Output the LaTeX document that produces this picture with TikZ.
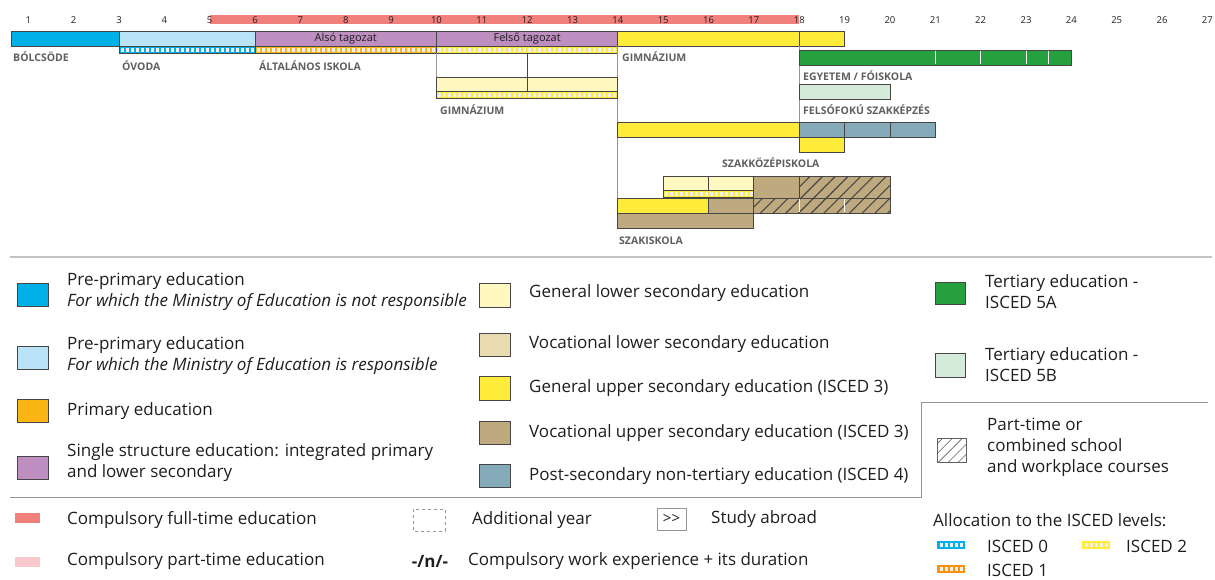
\documentclass[tikz,border=0pt]{standalone}
\usepackage{fontspec}
\setmainfont{Open Sans}
\usetikzlibrary{patterns.meta}

\definecolor{cCreche}{RGB}{0,176,230}
\definecolor{cPre}{RGB}{187,227,247}
\definecolor{cPrim}{RGB}{251,181,21}
\definecolor{cSingle}{RGB}{190,142,192}
\definecolor{cGenLow}{RGB}{255,248,192}
\definecolor{cVocLow}{RGB}{232,220,176}
\definecolor{cGenUp}{RGB}{255,236,58}
\definecolor{cVocUp}{RGB}{191,170,128}
\definecolor{cPost}{RGB}{133,171,186}
\definecolor{cTerA}{RGB}{38,160,62}
\definecolor{cTerB}{RGB}{213,235,217}
\definecolor{cComp}{RGB}{240,128,124}
\definecolor{cPart}{RGB}{248,200,204}
\definecolor{cEdge}{RGB}{70,70,70}
\definecolor{cRule}{RGB}{150,150,150}
\definecolor{cSep}{RGB}{195,195,195}
\definecolor{cText}{RGB}{30,30,30}
\definecolor{cCap}{RGB}{95,95,95}

% horizontal position (px) of a given age on the time line
\def\A#1{#1*45.35-17.05}

% thin ISCED allocation strip: left age, right age, top, colour
\newcommand\iscedstrip[4]{%
  \pgfmathsetmacro\stL{\A{#1}}\pgfmathsetmacro\stR{\A{#2}}%
  \fill[#4] (\stL,#3) rectangle (\stR,#3+7);
  \pgfmathsetmacro\stS{\stL+2}\pgfmathsetmacro\stT{\stL+7}\pgfmathsetmacro\stE{\stR-3}%
  \foreach \u in {\stS,\stT,...,\stE} \fill[white!88!gray] (\u,#3+1.5) rectangle (\u+2.5,#3+5.5);
  \draw[bar] (\stL,#3) rectangle (\stR,#3+7);}

% small striped legend key: left, top, colour
\newcommand\iscedkey[3]{%
  \fill[#3] (#1,#2) rectangle (#1+28,#2+8);
  \foreach \k in {0,...,4} \fill[white!88!gray] (#1+3+\k*5,#2+2) rectangle (#1+5.5+\k*5,#2+6);}

\tikzset{
  bar/.style={draw=cEdge, line width=0.9pt},
  rule/.style={draw=cRule, line width=0.8pt},
  schoolcap/.style={anchor=west, inner sep=0, text=cCap, font=\fontsize{10.5}{11}\selectfont\bfseries},
  agenum/.style={inner sep=0, text=cText, font=\fontsize{9.5}{10}\selectfont},
  tier/.style={inner sep=0, text=cText, font=\fontsize{11}{12}\selectfont},
  leg/.style={anchor=west, inner sep=0, text=cText, align=left, font=\fontsize{17}{21}\selectfont},
  swatch/.style={draw=cEdge, line width=0.6pt},
  hatch/.style={pattern={Lines[angle=45,distance=9pt,line width=1.1pt]}, pattern color=cEdge}
}

\begin{document}
\begin{tikzpicture}[x=1pt,y=-1pt]
\useasboundingbox (0,0) rectangle (1215,579);

% ---------- time line ----------
\fill[cComp] (\A{5},15) rectangle (\A{18},24);
\foreach \a in {1,...,27} \node[agenum] (age\a) at (\A{\a},20) {\a};

% ---------- main row ----------
\filldraw[bar, fill=cCreche] (11,31) rectangle (\A{3},46);
\filldraw[bar, fill=cPre] (\A{3},31) rectangle (\A{6},46);
\filldraw[bar, fill=cSingle] (\A{6},31) rectangle (\A{10},46);
\filldraw[bar, fill=cSingle] (\A{10},31) rectangle (\A{14},46);
\filldraw[bar, fill=cGenUp] (\A{14},31) rectangle (\A{18},46);
\filldraw[bar, fill=cGenUp] (\A{18},31) rectangle (\A{19},46);
\node[tier] (also) at (\A{8},38.5) {Alsó tagozat};
\node[tier] (felso) at (\A{12},38.5) {Felső tagozat};

\iscedstrip{3}{6}{46}{cCreche}
\iscedstrip{6}{10}{46}{cPrim}
\iscedstrip{10}{14}{46}{cGenUp}

% ---------- branch lines ----------
\draw[rule] (\A{10},53) -- (\A{10},98);
\draw[rule] (\A{14},46) -- (\A{14},213);
\draw[rule] (\A{18},46) -- (\A{18},122);

% eight-year gimnázium, lower part
\filldraw[bar, fill=cGenLow] (\A{10},77) rectangle (\A{12},91);
\filldraw[bar, fill=cGenLow] (\A{12},77) rectangle (\A{14},91);
\draw[bar] (\A{12},53) -- (\A{12},77);
\iscedstrip{10}{14}{91}{cGenUp}

% tertiary
\filldraw[bar, fill=cTerA] (\A{18},50) rectangle (\A{24},65);
\foreach \d in {21,22,23,23.5} \draw[white, line width=1pt] (\A{\d},50.6) -- (\A{\d},64.4);
\filldraw[bar, fill=cTerB] (\A{18},84) rectangle (\A{20},99);

% post-secondary row
\filldraw[bar, fill=cGenUp] (\A{14},122) rectangle (\A{18},137);
\filldraw[bar, fill=cPost] (\A{18},122) rectangle (\A{19},137);
\filldraw[bar, fill=cPost] (\A{19},122) rectangle (\A{20},137);
\filldraw[bar, fill=cPost] (\A{20},122) rectangle (\A{21},137);
\filldraw[bar, fill=cGenUp] (\A{18},137) rectangle (\A{19},152);

% szakközépiskola
\filldraw[bar, fill=cGenLow] (\A{15},176) rectangle (\A{16},190);
\filldraw[bar, fill=cGenLow] (\A{16},176) rectangle (\A{17},190);
\iscedstrip{15}{17}{190}{cGenUp}
\filldraw[bar, fill=cVocUp] (\A{17},176) rectangle (\A{18},198);
\fill[cVocUp] (\A{18},176) rectangle (\A{20},198);
\fill[hatch] (\A{18},176) rectangle (\A{20},198);
\draw[bar] (\A{18},176) rectangle (\A{20},198);

\filldraw[bar, fill=cGenUp] (\A{14},198) rectangle (\A{16},213);
\filldraw[bar, fill=cVocUp] (\A{16},198) rectangle (\A{17},213);
\fill[cVocUp] (\A{17},198) rectangle (\A{20},213);
\fill[hatch] (\A{17},198) rectangle (\A{20},213);
\draw[bar] (\A{17},198) rectangle (\A{20},213);
\foreach \d in {18,19} \draw[white, line width=1pt] (\A{\d},198.6) -- (\A{\d},212.4);

% szakiskola
\filldraw[bar, fill=cVocUp] (\A{14},213) rectangle (\A{17},228);

% ---------- school labels ----------
\node[schoolcap] (bolcsode) at (13,57) {BÓLCSÖDE};
\node[schoolcap] (ovoda) at (122,65.5) {ÓVODA};
\node[schoolcap] (altalanos) at (259,65.5) {ÁLTALÁNOS ISKOLA};
\node[schoolcap] (gimn) at (622,57) {GIMNÁZIUM};
\node[schoolcap] (gimnlow) at (440,110) {GIMNÁZIUM};
\node[schoolcap] (egyetem) at (803,76) {EGYETEM / FÓISKOLA};
\node[schoolcap] (felsofoku) at (803,110) {FELSÓFOKÚ SZAKKÉPZÉS};
\node[schoolcap] (szakkozep) at (722,163) {SZAKKÖZÉPISKOLA};
\node[schoolcap] (szakiskola) at (619,240.5) {SZAKISKOLA};

% ---------- legend ----------
\draw[cSep, line width=2pt] (10,257) -- (1212,257);

\filldraw[swatch, fill=cCreche] (17,283) rectangle (48,306);
\node[leg] (lCreche) at (67,291.5) {Pre-primary education\\\textit{For which the Ministry of Education is not responsible}};
\filldraw[swatch, fill=cPre] (17,346) rectangle (48,369);
\node[leg] (lPre) at (67,355.5) {Pre-primary education\\\textit{For which the Ministry of Education is responsible}};
\filldraw[swatch, fill=cPrim] (17,399) rectangle (48,422);
\node[leg] (lPrim) at (67,411.5) {Primary education};
\filldraw[swatch, fill=cSingle] (17,456) rectangle (48,479);
\node[leg] (lSingle) at (67,462.5) {Single structure education: integrated primary\\and lower secondary};

\filldraw[swatch, fill=cGenLow] (479,283) rectangle (510,307);
\node[leg] (lGenLow) at (529,293) {General lower secondary education};
\filldraw[swatch, fill=cVocLow] (479,333) rectangle (510,356);
\node[leg] (lVocLow) at (529,344) {Vocational lower secondary education};
\filldraw[swatch, fill=cGenUp] (479,376) rectangle (510,400);
\node[leg] (lGenUp) at (529,388) {General upper secondary education (ISCED 3)};
\filldraw[swatch, fill=cVocUp] (479,421) rectangle (510,444);
\node[leg] (lVocUp) at (529,433) {Vocational upper secondary education (ISCED 3)};
\filldraw[swatch, fill=cPost] (479,464) rectangle (510,487);
\node[leg] (lPost) at (529,476) {Post-secondary non-tertiary education (ISCED 4)};

\filldraw[swatch, fill=cTerA] (935,282) rectangle (965,304);
\node[leg] (lTerA) at (985,291.5) {Tertiary education -\\ISCED 5A};
\filldraw[swatch, fill=cTerB] (935,353) rectangle (965,377);
\node[leg] (lTerB) at (985,365) {Tertiary education -\\ISCED 5B};

\draw[rule] (1208,402) -- (921,402) -- (921,497) -- (10,497);
\fill[pattern={Lines[angle=45,distance=7pt,line width=0.6pt]}, pattern color=cCap] (937,438) rectangle (966,462);
\draw[draw=cCap, line width=0.6pt] (937,438) rectangle (966,462);
\node[leg] (lPart) at (987,447) {Part-time or\\combined school\\and workplace courses};

\fill[cComp] (15,513) rectangle (40,523);
\node[leg] (lComp) at (67,520) {Compulsory full-time education};
\fill[cPart] (15,557) rectangle (40,567);
\node[leg] (lPart2) at (67,561) {Compulsory part-time education};

\draw[cRule, dashed, line width=0.7pt] (413,509) rectangle (445,531);
\node[leg] (lAdd) at (472,520) {Additional year};
\node[inner sep=0, text=cText, font=\fontsize{17}{18}\selectfont\bfseries] (lWorkSym) at (430,561) {-/n/-};
\node[leg] (lWork) at (468,561) {Compulsory work experience + its duration};

\node[draw=cRule, line width=0.7pt, minimum width=29pt, minimum height=22pt, inner sep=0, text=cText, font=\fontsize{15}{16}\selectfont] (lAbroadSym) at (671.5,519) {>{}>};
\node[leg] (lAbroad) at (711,519) {Study abroad};

\node[leg] (lAlloc) at (933,520) {Allocation to the ISCED levels:};
\iscedkey{937}{541}{cCreche}
\node[leg] (lI0) at (987,546) {ISCED 0};
\iscedkey{1082}{541}{cGenUp}
\node[leg] (lI2) at (1126,546) {ISCED 2};
\iscedkey{937}{565}{cPrim!80!red}
\node[leg] (lI1) at (987,570) {ISCED 1};
\end{tikzpicture}
\end{document}
